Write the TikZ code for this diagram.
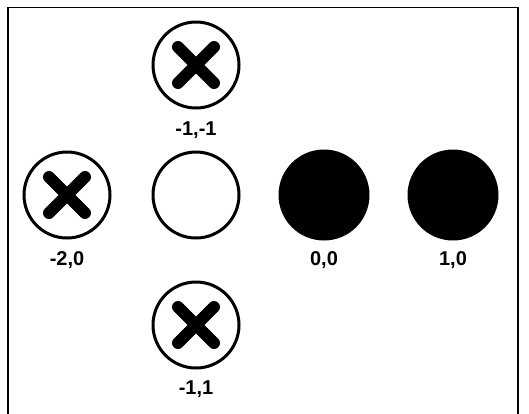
\documentclass[tikz,border=0pt]{standalone}
\usepackage{fontspec}
\setmainfont{Liberation Sans}
\usetikzlibrary{positioning}
\tikzset{
  cell/.style={circle,draw=black,line width=3pt,minimum size=86pt,inner sep=0pt},
  free/.style={cell,fill=white},
  taken/.style={cell,fill=black,minimum size=88pt},
  cross/.style={draw=black,line width=12pt,line cap=round},
  lab/.style={font=\fontsize{20}{22}\selectfont\bfseries,align=center},
}
\begin{document}
\begin{tikzpicture}[x=1pt,y=-1pt]
\useasboundingbox (0,0) rectangle (529,413);
\draw[line width=1.5pt] (8,420) -- (8,7.5) -- (518,7.5) -- (518,420);
% board cells
\node[free] (up) at (196,65) {};
\node[free] (left) at (67,195) {};
\node[free] (mid) at (196,195) {};
\node[taken] (a) at (324,195) {};
\node[taken] (b) at (453,195) {};
\node[free] (down) at (196,325) {};
% blocked cells
\foreach \c in {up,left,down}
  \draw[cross] (\c.center) +(-18,-18) -- +(18,18) (\c.center) +(-18,18) -- +(18,-18);
% coordinates
\node[lab,below=8.5pt of up] (lup) {-1,-1};
\node[lab,below=8.5pt of left] (lleft) {-2,0};
\node[lab,below=7.5pt of a] (la) {0,0};
\node[lab,below=7.5pt of b] (lb) {1,0};
\node[lab,below=8pt of down] (ldown) {-1,1};
\end{tikzpicture}
\end{document}
